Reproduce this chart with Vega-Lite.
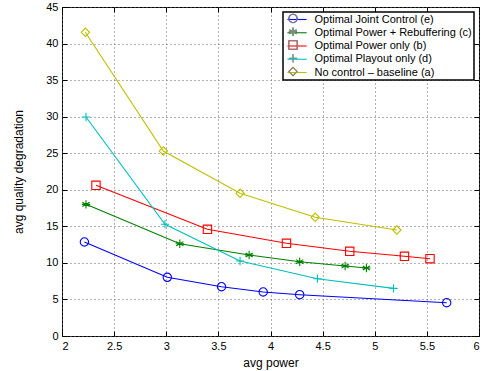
{
  "$schema": "https://vega.github.io/schema/vega-lite/v6.json",
  "width": 417,
  "height": 329,
  "autosize": {"type": "none"},
  "padding": {"left": 62, "top": 7, "right": 2, "bottom": 35},
  "config": {
    "font": "Liberation Sans",
    "view": {"stroke": "black", "strokeWidth": 1},
    "axis": {
      "domain": false,
      "tickColor": "black",
      "tickSize": -5,
      "tickWidth": 1,
      "labelColor": "black",
      "labelFont": "Liberation Sans",
      "labelFontSize": 11,
      "titleFont": "Liberation Sans",
      "titleFontSize": 12,
      "titleFontWeight": "normal",
      "titleColor": "black",
      "gridColor": "#666666",
      "gridDash": [1, 3],
      "gridWidth": 1,
      "gridOpacity": 1
    }
  },
  "data": {
    "values": [
      {"series": "Optimal Joint Control (e)", "x": 2.215, "y": 12.86},
      {"series": "Optimal Joint Control (e)", "x": 3.01, "y": 8.03},
      {"series": "Optimal Joint Control (e)", "x": 3.53, "y": 6.74},
      {"series": "Optimal Joint Control (e)", "x": 3.93, "y": 6.02},
      {"series": "Optimal Joint Control (e)", "x": 4.28, "y": 5.65},
      {"series": "Optimal Joint Control (e)", "x": 5.69, "y": 4.55},
      {"series": "Optimal Power + Rebuffering (c)", "x": 2.23, "y": 18.01},
      {"series": "Optimal Power + Rebuffering (c)", "x": 3.13, "y": 12.62},
      {"series": "Optimal Power + Rebuffering (c)", "x": 3.795, "y": 11.08},
      {"series": "Optimal Power + Rebuffering (c)", "x": 4.28, "y": 10.16},
      {"series": "Optimal Power + Rebuffering (c)", "x": 4.716, "y": 9.57},
      {"series": "Optimal Power + Rebuffering (c)", "x": 4.92, "y": 9.3},
      {"series": "Optimal Power only (b)", "x": 2.326, "y": 20.61},
      {"series": "Optimal Power only (b)", "x": 3.395, "y": 14.59},
      {"series": "Optimal Power only (b)", "x": 4.153, "y": 12.68},
      {"series": "Optimal Power only (b)", "x": 4.76, "y": 11.59},
      {"series": "Optimal Power only (b)", "x": 5.285, "y": 10.9},
      {"series": "Optimal Power only (b)", "x": 5.53, "y": 10.57},
      {"series": "Optimal Playout only (d)", "x": 2.23, "y": 29.95},
      {"series": "Optimal Playout only (d)", "x": 2.988, "y": 15.28},
      {"series": "Optimal Playout only (d)", "x": 3.708, "y": 10.26},
      {"series": "Optimal Playout only (d)", "x": 4.45, "y": 7.84},
      {"series": "Optimal Playout only (d)", "x": 5.18, "y": 6.52},
      {"series": "No control – baseline (a)", "x": 2.224, "y": 41.54},
      {"series": "No control – baseline (a)", "x": 2.972, "y": 25.3},
      {"series": "No control – baseline (a)", "x": 3.708, "y": 19.52},
      {"series": "No control – baseline (a)", "x": 4.428, "y": 16.24},
      {"series": "No control – baseline (a)", "x": 5.212, "y": 14.5}
    ]
  },
  "layer": [
    {
      "mark": {"type": "line", "strokeWidth": 1.1},
      "encoding": {
        "x": {
          "field": "x", "type": "quantitative",
          "scale": {"domain": [2, 6], "nice": false, "zero": false},
          "axis": {"orient": "bottom", "values": [2, 2.5, 3, 3.5, 4, 4.5, 5, 5.5, 6], "format": "~g", "grid": true, "title": "avg power", "labelPadding": 9, "titlePadding": 6}
        },
        "y": {
          "field": "y", "type": "quantitative",
          "scale": {"domain": [0, 45], "nice": false},
          "axis": {"orient": "left", "values": [0, 5, 10, 15, 20, 25, 30, 35, 40, 45], "grid": true, "title": "avg quality degradation", "labelPadding": 9, "titlePadding": 20}
        },
        "stroke": {
          "field": "series", "type": "nominal",
          "scale": {
            "domain": ["Optimal Joint Control (e)", "Optimal Power + Rebuffering (c)", "Optimal Power only (b)", "Optimal Playout only (d)", "No control – baseline (a)"],
            "range": ["#0000ff", "#008000", "#ff0000", "#00bfbf", "#bfbf00"]
          },
          "legend": {
            "title": null, "orient": "top-right", "offset": 5,
            "symbolType": "M-2.4,0H2.4", "symbolSize": 64, "symbolStrokeWidth": 1.1,
            "labelFont": "Liberation Sans", "labelFontSize": 11, "labelColor": "black",
            "fillColor": "white", "strokeColor": "black",
            "padding": 2, "rowPadding": 1.25, "symbolOffset": 6.5, "labelOffset": 12,
            "encode": {"legend": {"update": {"strokeWidth": {"value": 1.5}}}}
          }
        }
      }
    },
    {
      "mark": {"type": "point", "filled": false, "size": 70, "strokeWidth": 1.1, "opacity": 1},
      "encoding": {
        "x": {
          "field": "x", "type": "quantitative",
          "axis": {"orient": "top", "values": [2, 2.5, 3, 3.5, 4, 4.5, 5, 5.5, 6], "labels": false, "grid": false, "title": null}
        },
        "y": {
          "field": "y", "type": "quantitative",
          "axis": {"orient": "right", "values": [0, 5, 10, 15, 20, 25, 30, 35, 40, 45], "labels": false, "grid": false, "title": null}
        },
        "color": {
          "field": "series", "type": "nominal",
          "scale": {
            "domain": ["Optimal Joint Control (e)", "Optimal Power + Rebuffering (c)", "Optimal Power only (b)", "Optimal Playout only (d)", "No control – baseline (a)"],
            "range": ["#0000ff", "#008000", "#ff0000", "#00bfbf", "#bfbf00"]
          },
          "legend": {
            "title": null, "orient": "none", "legendX": 214, "legendY": 4,
            "symbolSize": 70, "symbolStrokeWidth": 1.1,
            "labelFont": "Liberation Sans", "labelFontSize": 11, "labelExpr": "''",
            "fillColor": "transparent", "strokeColor": "transparent",
            "padding": 2, "rowPadding": 0.25, "symbolOffset": 9.5, "labelOffset": 21
          }
        },
        "shape": {
          "field": "series", "type": "nominal",
          "scale": {
            "domain": ["Optimal Joint Control (e)", "Optimal Power + Rebuffering (c)", "Optimal Power only (b)", "Optimal Playout only (d)", "No control – baseline (a)"],
            "range": ["circle", "M0,-1V1M-0.87,-0.5L0.87,0.5M-0.87,0.5L0.87,-0.5M-1,0H1", "square", "M-1,0H1M0,-1V1", "diamond"]
          },
          "legend": {
            "title": null, "orient": "none", "legendX": 214, "legendY": 4,
            "symbolSize": 70, "symbolStrokeWidth": 1.1,
            "labelFont": "Liberation Sans", "labelFontSize": 11, "labelExpr": "''",
            "fillColor": "transparent", "strokeColor": "transparent",
            "padding": 2, "rowPadding": 0.25, "symbolOffset": 9.5, "labelOffset": 21
          }
        }
      }
    }
  ],
  "resolve": {"axis": {"x": "independent", "y": "independent"}}
}
